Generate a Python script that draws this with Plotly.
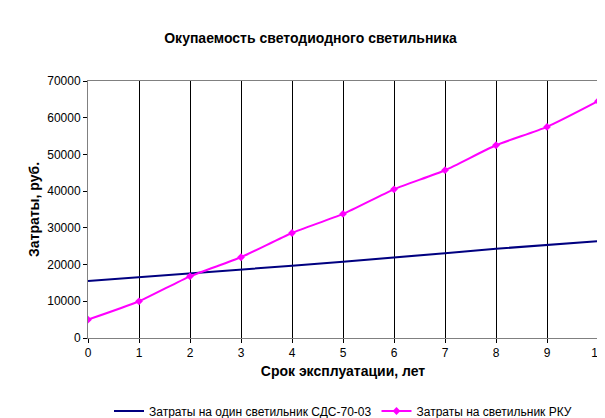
import plotly.graph_objects as go

# Срок эксплуатации, лет
years = [0, 1, 2, 3, 4, 5, 6, 7, 8, 9, 10]
# Затраты, руб.
sds = [15500, 16500, 17500, 18600, 19700, 20800, 21900, 23100, 24300, 25300, 26400]
rku = [5000, 10000, 16800, 22000, 28600, 33800, 40500, 45700, 52500, 57500, 64500]

fig = go.Figure()
fig.add_trace(go.Scatter(x=years, y=sds, mode='lines', name='Затраты на один светильник СДС-70-03',
                         line=dict(color='#000080', width=2)))
fig.add_trace(go.Scatter(x=years, y=rku, mode='lines+markers', name='Затраты на светильник РКУ',
                         line=dict(color='#FF00FF', width=2, shape='spline', smoothing=0.6),
                         marker=dict(symbol='diamond', size=6, color='#FF00FF')))

fig.update_layout(
    width=605, height=418,
    paper_bgcolor='white', plot_bgcolor='white',
    font=dict(family='Arial', size=12, color='black'),
    margin=dict(l=80, r=15, t=73, b=88, autoexpand=False),
    title=dict(text='<b>Окупаемость светодиодного светильника</b>', x=0.5, xanchor='center',
               y=0.928, yanchor='middle', font=dict(size=14)),
    xaxis=dict(title=dict(text='<b>Срок эксплуатации, лет</b>', standoff=6), range=[0, 10],
               tickmode='linear', tick0=0, dtick=1, showgrid=True, gridcolor='black', gridwidth=1,
               showline=True, linecolor='#808080', linewidth=1, mirror=True, automargin=False,
               ticks='outside', ticklen=4, tickcolor='black', zeroline=False),
    yaxis=dict(title=dict(text='<b>Затраты, руб.</b>', standoff=4), range=[0, 70000],
               tickmode='linear', tick0=0, dtick=10000, tickformat='d', showgrid=False,
               showline=True, linecolor='#808080', linewidth=1, mirror=True, automargin=False,
               ticks='outside', ticklen=4, tickcolor='black', zeroline=False),
    legend=dict(orientation='h', x=0.5, xanchor='center', y=-0.284, yanchor='middle',
                font=dict(size=12)),
)

fig.write_html('out.html')
